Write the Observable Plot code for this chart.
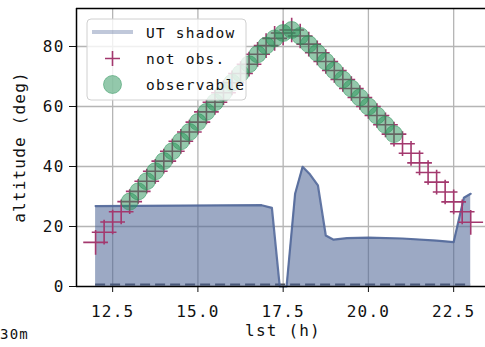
<!DOCTYPE html>
<html><head><meta charset="utf-8">
<script src="https://cdn.jsdelivr.net/npm/d3@7"></script>
<script src="https://cdn.jsdelivr.net/npm/@observablehq/plot@0.6"></script>
<style>
body{margin:0;background:#fff;}
#chart svg{font-family:"DejaVu Sans Mono",monospace;display:block;}
#chart svg text{letter-spacing:1.2px;}
</style>
</head><body><div id="chart"></div>
<script>
// --- data ---
const lst = [12.00,12.25,12.50,12.75,13.00,13.25,13.50,13.75,14.00,14.25,14.50,14.75,15.00,15.25,15.50,15.75,16.00,16.25,16.50,16.75,17.00,17.25,17.50,17.75,18.00,18.25,18.50,18.75,19.00,19.25,19.50,19.75,20.00,20.25,20.50,20.75,21.00,21.25,21.50,21.75,22.00,22.25,22.50,22.75,23.00];
const alt = [14.7,18.1,21.5,24.9,28.3,31.7,35.1,38.4,41.8,45.1,48.4,51.5,54.8,58.2,61.4,64.6,67.9,71.0,74.1,77.4,80.3,82.7,84.5,85.5,83.5,80.8,77.9,75.0,72.0,69.0,66.0,63.0,60.0,57.0,53.9,50.8,47.6,44.4,41.2,38.0,34.8,31.5,28.2,24.9,21.4];
const observable = [false,false,false,false,true,true,true,true,true,true,true,true,true,true,true,true,true,true,true,true,true,true,true,true,true,true,true,true,true,true,true,true,true,true,true,true,false,false,false,false,false,false,false,false,false];
const shadowLst = [12.00,16.87,17.17,17.40,17.60,17.85,18.07,18.27,18.52,18.75,18.98,19.37,20.00,21.00,22.00,22.50,22.80,23.00];
const shadowAlt = [26.8,27.1,26.2,0,0,30.9,39.9,37.6,33.7,17.0,15.6,16.1,16.3,16.0,15.3,14.8,29.6,30.9];
const xTicks = [12.5,15.0,17.5,20.0,22.5];
const yTicks = [0,20,40,60,80];
const legendLabels = ["UT shadow","not obs.","observable"];
const xLabel = "lst (h)";
const yLabel = "altitude (deg)";
const cornerNote = "30m";

const points = lst.map((x,i)=>({lst:x, alt:alt[i], obs:observable[i]}));
const shadow = shadowLst.map((x,i)=>({lst:x, alt:shadowAlt[i]}));
const xDom = [11.44, 23.58];
const yDom = [0, 92.67];

const green = "#279257";
const maroon = "#a3386e";
const shadowCol = "#4a6294";

const plot = Plot.plot({
  width: 485, height: 347,
  marginLeft: 76, marginRight: -5, marginTop: 8, marginBottom: 61,
  style: {fontFamily: "'DejaVu Sans Mono', monospace", fontSize: "16px", background: "white", color: "#111"},
  x: {domain: xDom},
  y: {domain: yDom},
  marks: [
    Plot.ruleX(xTicks, {stroke: "#b5b5b5", strokeWidth: 1.3}),
    Plot.ruleY(yTicks.slice(1), {stroke: "#b5b5b5", strokeWidth: 1.3}),
    Plot.ruleY([0], {x1: shadowLst[0], x2: shadowLst[shadowLst.length-1], dy: -2, stroke: "#4a4f5c", strokeWidth: 2, strokeDasharray: "10,5"}),
    Plot.areaY(shadow, {x: "lst", y: "alt", fill: shadowCol, fillOpacity: 0.55}),
    Plot.lineY(shadow, {x: "lst", y: "alt", stroke: "#52689a", strokeWidth: 2.2, strokeOpacity: 0.9}),
    Plot.dot(points, {x: "lst", y: "alt", symbol: "plus", r: 8, stroke: maroon, strokeWidth: 1.6}),
    Plot.dot(points.filter(d => d.obs), {x: "lst", y: "alt", r: 8.5, fill: green, fillOpacity: 0.5, stroke: green, strokeOpacity: 0.5, strokeWidth: 1}),
    Plot.axisX({ticks: xTicks, tickFormat: d => d.toFixed(1), tickSize: 6, tickPadding: 13, label: null, fontSize: 16}),
    Plot.axisY({ticks: yTicks, tickSize: 7, tickPadding: 5, label: null, fontSize: 16}),
    Plot.ruleX([xDom[0]], {stroke: "#000", strokeWidth: 1.5}),
    Plot.ruleY([yDom[0]], {stroke: "#000", strokeWidth: 1.5}),
    Plot.ruleY([yDom[1]], {stroke: "#000", strokeWidth: 1.5})
  ]
});
document.getElementById("chart").appendChild(plot);

// legend + labels
const svg = d3.select(plot);
const g = svg.append("g").attr("font-family", "'DejaVu Sans Mono', monospace").attr("font-size", 14.5).attr("fill", "#111").attr("text-anchor", "start");
g.append("rect").attr("x", 87).attr("y", 19).attr("width", 159).attr("height", 81).attr("rx", 4)
  .attr("fill", "white").attr("fill-opacity", 0.8).attr("stroke", "#d0d0d0").attr("stroke-width", 1);
g.append("line").attr("x1", 92).attr("x2", 133).attr("y1", 32).attr("y2", 32)
  .attr("stroke", shadowCol).attr("stroke-opacity", 0.35).attr("stroke-width", 4);
g.append("path").attr("d", "M105,58.5H120M112.5,51V66").attr("stroke", maroon).attr("stroke-width", 1.6).attr("fill", "none");
g.append("circle").attr("cx", 112.5).attr("cy", 84.5).attr("r", 9).attr("fill", green).attr("fill-opacity", 0.5)
  .attr("stroke", green).attr("stroke-opacity", 0.5);
legendLabels.forEach((t, i) => {
  g.append("text").attr("x", 146).attr("y", [38, 63.5, 89.5][i]).attr("text-anchor", "start").text(t);
});
const lab = svg.append("g").attr("font-family", "'DejaVu Sans Mono', monospace").attr("font-size", 16).attr("fill", "#111");
lab.append("text").attr("x", 283).attr("y", 336).attr("text-anchor", "middle").text(xLabel);
lab.append("text").attr("transform", "translate(25,147) rotate(-90)").attr("text-anchor", "middle").text(yLabel);
lab.append("text").attr("x", 0).attr("y", 339).attr("font-size", 14).attr("text-anchor", "start").text(cornerNote);
</script>
</body></html>
